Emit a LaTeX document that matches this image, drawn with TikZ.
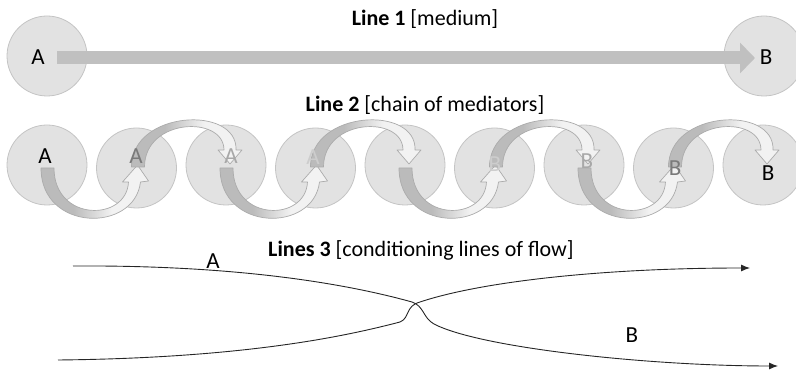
\documentclass[tikz,border=0pt]{standalone}
\usepackage{fontspec}
\setmainfont{Carlito}
\usetikzlibrary{calc,arrows.meta}
\definecolor{cfill}{HTML}{E2E2E2}
\definecolor{cline}{HTML}{C4C4C4}
\definecolor{rdark}{HTML}{BBBBBB}
\definecolor{rlight}{HTML}{F2F2F2}
\definecolor{rline}{HTML}{ABABAB}
\definecolor{barcol}{HTML}{C0C0C0}
\definecolor{gA}{HTML}{7A7A7A}
\definecolor{gB}{HTML}{A8A8A8}
\definecolor{gC}{HTML}{CDCDCD}
\pgfdeclarehorizontalshading{ribbon}{100bp}{color(0bp)=(rdark); color(40bp)=(rdark); color(58bp)=(rlight); color(100bp)=(rlight)}
\newcommand\ribbondown[2]{%
  \path[ribbonstyle] ($(#1)+(-6,3)$) .. controls ($(#1)+(-6,67)$) and ($(#2)+(-2,65)$) .. ($(#2)+(4,14)$)
    -- ($(#2)+(12,13)$) -- ($(#2)+(1,-3)$) -- ($(#2)+(-14,14)$) -- ($(#2)+(-8,14)$)
    .. controls ($(#2)+(-10,54)$) and ($(#1)+(7,57)$) .. ($(#1)+(7,3)$) -- cycle;}
\newcommand\ribbonup[2]{%
  \path[ribbonstyle] ($(#1)+(-5,-1)$) .. controls ($(#1)+(-5,-58)$) and ($(#2)+(12,-60)$) .. ($(#2)+(10,-15)$)
    -- ($(#2)+(16,-15)$) -- ($(#2)+(4,-1)$) -- ($(#2)+(-8,-15)$) -- ($(#2)+(-2,-15)$)
    .. controls ($(#2)+(-2,-50)$) and ($(#1)+(8,-50)$) .. ($(#1)+(8,-1)$) -- cycle;}
\begin{document}
\begin{tikzpicture}[x=1pt,y=-1pt,
  ball/.style={circle, fill=cfill, draw=cline, line width=0.8pt, minimum size=80pt, inner sep=0pt},
  title/.style={font=\fontsize{22}{26}\selectfont, anchor=base, inner sep=0pt},
  lab/.style={font=\fontsize{23}{27}\selectfont, inner sep=0pt},
  ribbonstyle/.style={shade, shading=ribbon, draw=rline, line width=0.7pt, line join=round},
  flow/.style={line width=0.9pt, draw=black!85, -{Latex[length=9pt,width=7pt]}}]
\useasboundingbox (0,0) rectangle (796,371);
% ---------- Line 1
\node[title] (t1) at (425,26) {\textbf{Line 1} [medium]};
\node[ball] (A1) at (47,56) {};
\node[ball] (B1) at (764,56) {};
\draw[barcol, line width=13pt, -{Triangle[length=15pt,width=30pt]}]
  ($(A1.center)+(10,2)$) -- ($(B1.center)+(-9,2)$);
\node[lab] (la1) at (38,57) {A};
\node[lab] (lb1) at (766,57) {B};
% ---------- Line 2
\node[title] (t2) at (425,112) {\textbf{Line 2} [chain of mediators]};
\foreach \i in {1,...,9}{
  \pgfmathsetmacro\cx{47+89.5*(\i-1)}
  \pgfmathsetmacro\cy{isodd(\i) ? 165 : 168}
  \node[ball] (c\i) at (\cx,\cy) {};
}
\ribbondown{c1}{c2}
\ribbonup{c2}{c3}
\ribbondown{c3}{c4}
\ribbonup{c4}{c5}
\ribbondown{c5}{c6}
\ribbonup{c6}{c7}
\ribbondown{c7}{c8}
\ribbonup{c8}{c9}
\node[lab] (m1) at (45,156) {A};
\node[lab, text=gA] (m2) at (136,156) {A};
\node[lab, text=gB] (m3) at (231,156) {A};
\node[lab, text=gC] (m4) at (313,157) {A};
\node[lab, text=gC] (m6) at (495,164) {B};
\node[lab, text=gB] (m7) at (587,161) {B};
\node[lab, text=gA] (m8) at (675,168) {B};
\node[lab] (m9) at (768,173) {B};
% ---------- Lines 3
\node[title] (t3) at (421,257) {\textbf{Lines 3} [conditioning lines of flow]};
\coordinate (p1s) at (73,266);
\coordinate (p1e) at (778,366);
\coordinate (p2s) at (58,360);
\coordinate (p2e) at (750,268);
\draw[flow] (p1s) .. controls (230,265) and (340,282) .. (412,302)
  .. controls (424,306) and (423,318) .. (434,324)
  .. controls (480,348) and (650,366) .. (p1e);
\draw[flow] (p2s) .. controls (250,358) and (350,335) .. (400,322)
  .. controls (410,318) and (405,306) .. (420,302)
  .. controls (480,282) and (600,268) .. (p2e);
\node[lab] (la3) at (213,261) {A};
\node[lab] (lb3) at (632,335) {B};
\end{tikzpicture}
\end{document}
